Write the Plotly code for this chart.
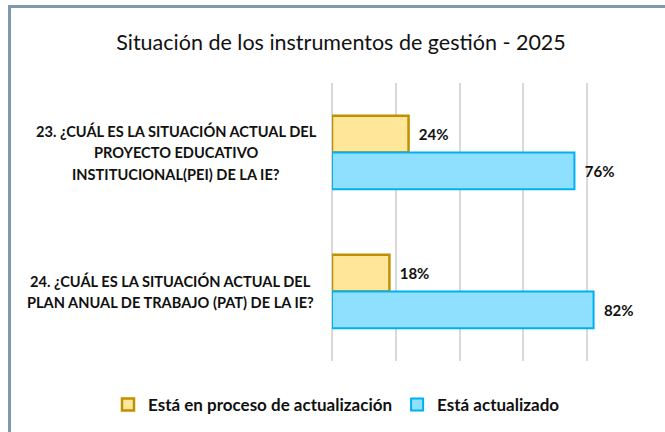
import plotly.graph_objects as go

categories = ["PEI", "PAT"]
category_lines = [
    ["23. ¿CUÁL ES LA SITUACIÓN ACTUAL DEL", "PROYECTO EDUCATIVO", "INSTITUCIONAL(PEI) DE LA IE?"],
    ["24. ¿CUÁL ES LA SITUACIÓN ACTUAL DEL", "PLAN ANUAL DE TRABAJO (PAT) DE LA IE?"],
]
series_names = ["Está en proceso de actualización", "Está actualizado"]
en_proceso = [24, 18]
actualizado = [76, 82]
title_text = "Situación de los instrumentos de gestión - 2025"

W, H = 665, 432
ML, MR, MT, MB = 332, 14, 83, 71
pw, ph = W - ML - MR, H - MT - MB

FONT = "Lato"
TXT = "#111111"

fig = go.Figure()
fig.add_trace(go.Bar(
    y=categories, x=en_proceso, orientation="h", name=series_names[0],
    marker=dict(color="#FFE699", line=dict(color="#BF9000", width=2.5)),
    texttemplate="\u00a0\u00a0%{x}%", textposition="outside",
    textfont=dict(family=FONT, size=15, color=TXT, weight="bold"),
    cliponaxis=False,
))
fig.add_trace(go.Bar(
    y=categories, x=actualizado, orientation="h", name=series_names[1],
    marker=dict(color="#8FE0FF", line=dict(color="#00B0F0", width=2)),
    texttemplate="\u00a0\u00a0%{x}%", textposition="outside",
    textfont=dict(family=FONT, size=15, color=TXT, weight="bold"),
    cliponaxis=False,
))

def px_to_paper_x(px):
    return (px - ML) / pw

def px_to_paper_y(py):
    return 1 - (py - MT) / ph

shapes = [
    dict(type="line", xref="paper", yref="paper",
         x0=px_to_paper_x(9.5), x1=px_to_paper_x(9.5),
         y0=px_to_paper_y(5), y1=px_to_paper_y(440),
         line=dict(color="#8497B0", width=3)),
    dict(type="line", xref="paper", yref="paper",
         x0=px_to_paper_x(8), x1=px_to_paper_x(670),
         y0=px_to_paper_y(6.5), y1=px_to_paper_y(6.5),
         line=dict(color="#8497B0", width=3)),
]

# category labels, centred block, one annotation per line
label_centers_px = [176, 170]
LINE_GAP = 21.5
annotations = []
for cat, lines, cx in zip(categories, category_lines, label_centers_px):
    n = len(lines)
    for i, line in enumerate(lines):
        annotations.append(dict(
            text=line, xref="paper", x=px_to_paper_x(cx), xanchor="center",
            yref="y", y=cat, yanchor="middle", yshift=((n - 1) / 2 - i) * LINE_GAP,
            showarrow=False, font=dict(family=FONT, size=14.6, color=TXT, weight="bold"),
        ))

fig.update_layout(
    width=W, height=H,
    margin=dict(l=ML, r=MR, t=MT, b=MB, autoexpand=False),
    paper_bgcolor="white", plot_bgcolor="white",
    barmode="group", bargap=0.47, bargroupgap=0,
    title=dict(text=title_text, x=341 / W, xanchor="center", y=1 - 42 / H, yanchor="middle",
               font=dict(family=FONT, size=21.5, color=TXT)),
    xaxis=dict(range=[0, 100], dtick=20, showticklabels=False, showgrid=True,
               gridcolor="#D9D9D9", gridwidth=2, zeroline=True, zerolinecolor="#D9D9D9",
               zerolinewidth=2, ticks="", fixedrange=True),
    yaxis=dict(autorange="reversed", showgrid=False, zeroline=False, ticks="",
               showticklabels=False, automargin=False),
    legend=dict(orientation="h", xref="paper", x=px_to_paper_x(108), xanchor="left",
                yref="paper", y=px_to_paper_y(405), yanchor="middle",
                font=dict(family=FONT, size=17, color=TXT, weight="bold"), itemwidth=30,
                traceorder="normal"),
    annotations=annotations,
    shapes=shapes,
    showlegend=True,
)

fig.write_html("out.html", config={"displayModeBar": False},
               post_script="document.body.style.margin='0px';")
